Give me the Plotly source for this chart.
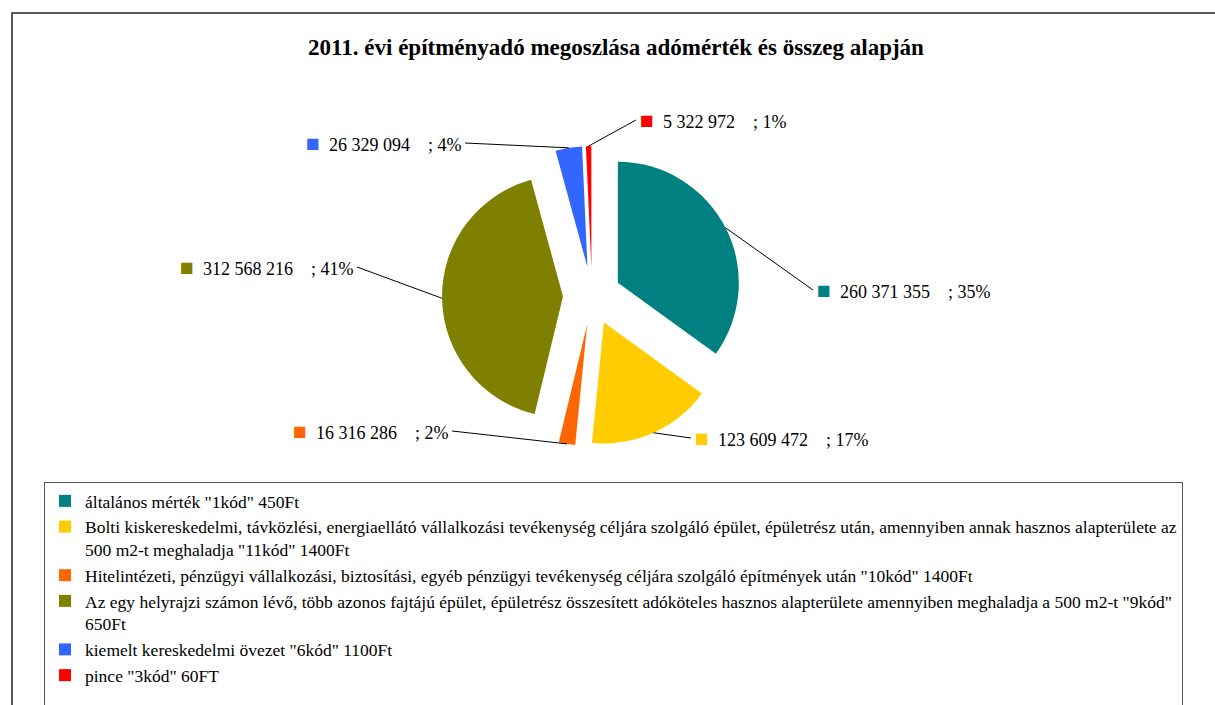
import math
import plotly.graph_objects as go

W, H = 1215, 705
FONT = "Liberation Serif, Times New Roman, serif"

# ---- data ----
categories = [
    'általános mérték "1kód" 450Ft',
    'Bolti kiskereskedelmi, távközlési, energiaellátó vállalkozási tevékenység céljára szolgáló épület, épületrész után, amennyiben annak hasznos alapterülete az<br>500 m2-t meghaladja "11kód" 1400Ft',
    'Hitelintézeti, pénzügyi vállalkozási, biztosítási, egyéb pénzügyi tevékenység céljára szolgáló építmények után "10kód" 1400Ft',
    'Az egy helyrajzi számon lévő, több azonos fajtájú épület, épületrész összesített adóköteles hasznos alapterülete amennyiben meghaladja a 500 m2-t "9kód"<br>650Ft',
    'kiemelt kereskedelmi övezet "6kód" 1100Ft',
    'pince "3kód" 60FT<br> ',
]
values = [260371355, 123609472, 16316286, 312568216, 26329094, 5322972]
pct_labels = [35, 17, 2, 41, 4, 1]

# ---- style ----
colors = ["#008080", "#FFCC00", "#FF6600", "#808000", "#3366FF", "#FF0000"]
PULL = 0.24
DOM_X = [0.3638, 0.6107]
DOM_Y = [0.3674, 0.7929]
# label tail positions (px, from top-left) and side anchor
label_pos = [(813, 290, "left"), (691, 438, "left"), (452, 431, "right"),
             (357, 267, "right"), (465, 143, "right"), (636, 120, "left")]

fig = go.Figure(go.Pie(
    labels=categories, values=values, sort=False, direction="clockwise",
    rotation=0, pull=[PULL] * len(values),
    marker=dict(colors=colors, line=dict(width=0)),
    textinfo="none", hoverinfo="label+value+percent",
    domain=dict(x=DOM_X, y=DOM_Y),
))

# geometry of the pie derived from the domain (same as plotly's own scaling)
cx = W * (DOM_X[0] + DOM_X[1]) / 2
cy = H * (1 - (DOM_Y[0] + DOM_Y[1]) / 2)
r = min(W * (DOM_X[1] - DOM_X[0]), H * (DOM_Y[1] - DOM_Y[0])) / 2 / (1 + PULL)
R = r * (1 + PULL)
total = sum(values)
nb = "\u00a0"

annotations = []
cum = 0
for v, p, c, (tx, ty, side) in zip(values, pct_labels, colors, label_pos):
    mid = (cum + v / 2) / total * 2 * math.pi
    cum += v
    hx = cx + R * math.sin(mid)
    hy = cy - R * math.cos(mid)
    val = f"{v:,}".replace(",", " ")
    txt = (f'<span style="font-size:23px;color:{c}">■</span>{nb*2}{val}'
           f'{nb*4}; {p}%')
    annotations.append(dict(
        x=hx / W, y=1 - hy / H, xref="paper", yref="paper",
        ax=tx - hx, ay=ty - hy, text=txt, showarrow=True, arrowhead=0,
        arrowwidth=1, arrowcolor="#000000", standoff=0, startstandoff=0,
        xanchor=side, yanchor="middle", borderpad=3,
        font=dict(family=FONT, size=18, color="#000000"),
    ))

fig.update_layout(
    width=W, height=H,
    margin=dict(l=0, r=0, t=0, b=0, autoexpand=False),
    paper_bgcolor="white", plot_bgcolor="white",
    title=dict(text="<b>2011. évi építményadó megoszlása adómérték és összeg alapján</b>",
               x=0.507, xanchor="center", y=1 - 47 / H, yanchor="middle",
               font=dict(family=FONT, size=23, color="#000000")),
    showlegend=True,
    legend=dict(x=44 / W, y=1 - 482 / H, xanchor="left", yanchor="top",
                bgcolor="white", bordercolor="#555555", borderwidth=1,
                valign="top", font=dict(family=FONT, size=17.5, color="#000000"),
                traceorder="normal"),
    annotations=annotations,
    shapes=[dict(type="rect", xref="paper", yref="paper",
                 x0=12 / W, x1=1.05, y0=-0.05, y1=1 - 13 / H,
                 line=dict(color="#222222", width=1.5), fillcolor="rgba(0,0,0,0)",
                 layer="below")],
)

fig.write_html("out.html", config={"displayModeBar": False},
               post_script="document.body.style.margin='0';document.body.style.overflow='hidden';")
